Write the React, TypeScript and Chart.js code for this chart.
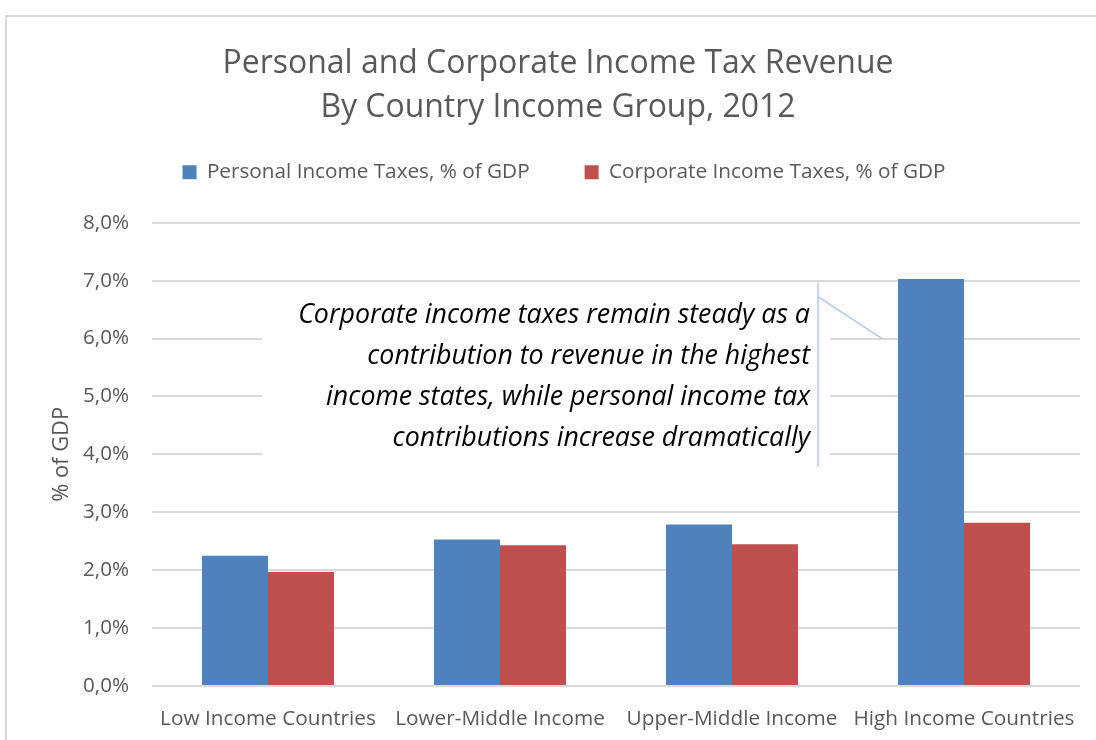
import React, { useEffect, useRef } from 'react';
import { Chart, registerables } from 'chart.js';

Chart.register(...registerables);

const categories = [
  'Low Income Countries',
  'Lower-Middle Income',
  'Upper-Middle Income',
  'High Income Countries',
];
const personalTax = [2.25, 2.53, 2.79, 7.03];
const corporateTax = [1.97, 2.43, 2.45, 2.82];
const seriesNames = ['Personal Income Taxes, % of GDP', 'Corporate Income Taxes, % of GDP'];
const titleLines = ['Personal and Corporate Income Tax Revenue', 'By Country Income Group, 2012'];
const yMin = 0;
const yMax = 8;
const yStep = 1;
const yAxisTitle = '% of GDP';
const calloutLines = [
  'Corporate income taxes remain steady as a',
  'contribution to revenue in the highest',
  'income states, while personal income tax',
  'contributions increase dramatically',
];
const calloutIndex = 3;
const calloutTopValue = 7;
const calloutTipValue = 6;

const FONT = '"Open Sans", Lato, sans-serif';
const GREY = '#595959';
const GRID = '#d9d9d9';

function fitSize(text: string, target: number, style = '') {
  const c = document.createElement('canvas').getContext('2d');
  if (!c) return 20;
  c.font = `${style} 100px ${FONT}`;
  const w = c.measureText(text).width;
  return w > 0 ? (100 * target) / w : 20;
}

export default function App() {
  const ref = useRef<HTMLCanvasElement>(null);
  useEffect(() => {
    if (!ref.current) return;
    const titleSize = fitSize(titleLines[0], 671);
    const legendSize = fitSize(seriesNames[0], 323);
    const xSize = fitSize(categories[0], 216);
    const tickSize = fitSize('8,0%', 46);
    const yTitleSize = fitSize(yAxisTitle, 95);
    const noteSize = fitSize(calloutLines[0], 512, 'italic');
    const padLeft = 36;

    const legendGap = {
      id: 'legendGap',
      beforeLayout(chart: any) {
        const lg = chart.legend;
        if (lg && !lg.__wrapped) {
          const orig = lg.fit;
          lg.fit = function () {
            orig.call(this);
            this.height += 30;
          };
          lg.__wrapped = true;
        }
      },
      afterLayout(chart: any) {
        const lg = chart.legend;
        if (lg) {
          lg.left += 6;
          lg.right += 6;
        }
      },
    };

    const calloutPlugin = {
      id: 'callout',
      afterDatasetsDraw(chart: any) {
        const { ctx } = chart;
        const y = chart.scales.y;
        const bar: any = chart.getDatasetMeta(0).data[calloutIndex];
        const barLeft = bar.x - bar.width / 2;
        const lineX = barLeft - 80;
        const topY = y.getPixelForValue(calloutTopValue) + 2;
        const bottomY = topY + 184;
        ctx.save();
        ctx.fillStyle = '#ffffff';
        ctx.fillRect(lineX - 556, topY, 568, bottomY - topY);
        ctx.strokeStyle = '#b4c7e7';
        ctx.lineWidth = 1.5;
        ctx.beginPath();
        ctx.moveTo(lineX, topY);
        ctx.lineTo(lineX, bottomY);
        ctx.moveTo(lineX, topY + 14);
        ctx.lineTo(barLeft - 16, y.getPixelForValue(calloutTipValue));
        ctx.stroke();
        ctx.fillStyle = '#000000';
        ctx.font = `italic ${noteSize}px ${FONT}`;
        ctx.textAlign = 'right';
        ctx.textBaseline = 'middle';
        calloutLines.forEach((t, i) => {
          ctx.fillText(t, lineX - 8, topY + 33 + i * 41);
        });
        ctx.restore();
      },
    };

    const yTitleLH = yTitleSize * 1.2;
    const chart = new Chart(ref.current, {
      type: 'bar',
      data: {
        labels: categories,
        datasets: [
          {
            label: seriesNames[0],
            data: personalTax,
            backgroundColor: '#4f81bd',
            categoryPercentage: 0.569,
            barPercentage: 1,
          },
          {
            label: seriesNames[1],
            data: corporateTax,
            backgroundColor: '#c0504d',
            categoryPercentage: 0.569,
            barPercentage: 1,
          },
        ],
      },
      options: {
        animation: false,
        responsive: false,
        devicePixelRatio: 1,
        layout: { padding: { left: padLeft, right: 16, top: 0, bottom: 0 } },
        plugins: {
          tooltip: { enabled: false },
          title: {
            display: true,
            text: titleLines,
            color: GREY,
            font: { family: FONT, size: titleSize, weight: 'normal', lineHeight: 44 / titleSize },
            padding: { top: 42, bottom: -23 },
          },
          legend: {
            display: true,
            position: 'top',
            labels: {
              color: GREY,
              font: { family: FONT, size: legendSize },
              boxWidth: 14,
              boxHeight: 14,
              padding: 55,
            },
          },
        },
        scales: {
          x: {
            grid: { display: false },
            border: { display: false },
            ticks: { color: GREY, font: { family: FONT, size: xSize }, padding: 13, maxRotation: 0, autoSkip: false },
            afterFit: (s: any) => {
              s.height = 54;
            },
          },
          y: {
            min: yMin,
            max: yMax,
            border: { display: false },
            grid: { color: GRID, lineWidth: 2, drawTicks: false },
            ticks: {
              stepSize: yStep,
              color: GREY,
              font: { family: FONT, size: tickSize },
              padding: 23,
              callback: (v: any) => Number(v).toFixed(1).replace('.', ',') + '%',
            },
            title: {
              display: true,
              text: yAxisTitle,
              color: GREY,
              font: { family: FONT, size: yTitleSize, lineHeight: 1.2 },
              padding: { top: 62 - padLeft - yTitleLH / 2, bottom: 0 },
            },
            afterFit: (s: any) => {
              s.width = 152 - padLeft;
            },
          },
        },
      },
      plugins: [legendGap, calloutPlugin],
    });
    return () => chart.destroy();
  }, []);

  return (
    <div style={{ position: 'fixed', left: 0, top: 0, width: 1096, height: 740, background: '#fff', overflow: 'hidden' }}>
      <div
        style={{
          position: 'absolute',
          left: 5,
          top: 15,
          width: 1200,
          height: 800,
          border: `2px solid ${GRID}`,
          boxSizing: 'border-box',
        }}
      />
      <canvas ref={ref} width={1096} height={740} style={{ position: 'absolute', left: 0, top: 0, width: 1096, height: 740 }} />
    </div>
  );
}
